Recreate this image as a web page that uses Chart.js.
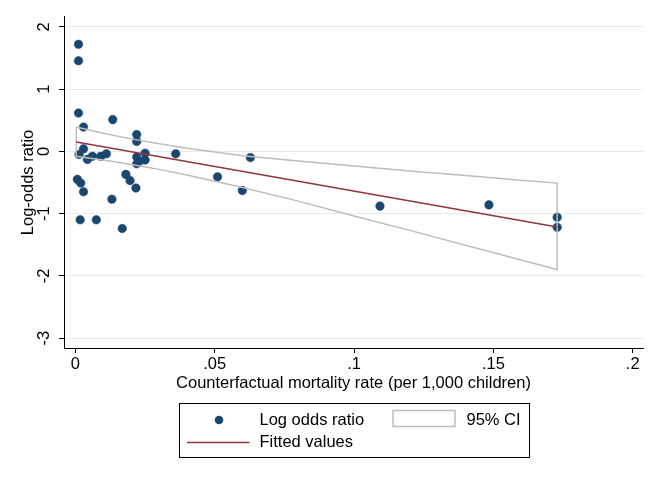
<!DOCTYPE html>
<html><head><meta charset="utf-8">
<script src="https://cdn.jsdelivr.net/npm/chart.js@4.4.1/dist/chart.umd.min.js"></script>
<style>html,body{margin:0;padding:0;background:#fff;}#wrap{width:659px;height:479px;}</style>
</head><body><div id="wrap"><canvas id="c" width="659" height="479"></canvas></div>
<script>
// ---- data ----
const pointX = [0.0011, 0.0011, 0.0011, 0.0134, 0.0029, 0.0220, 0.0220, 0.0029, 0.0013, 0.0043,
                0.0061, 0.0091, 0.0111, 0.0220, 0.0229, 0.0250, 0.0250, 0.0220, 0.0360, 0.0007,
                0.0019, 0.0029, 0.0181, 0.0196, 0.0217, 0.0131, 0.0017, 0.0075, 0.0168, 0.0510,
                0.0599, 0.0628, 0.1093, 0.1484, 0.1729, 0.1729];
const pointY = [1.72, 1.455, 0.615, 0.51, 0.39, 0.27, 0.16, 0.04, -0.05, -0.13,
                -0.08, -0.08, -0.04, -0.09, -0.16, -0.03, -0.14, -0.20, -0.04, -0.45,
                -0.51, -0.65, -0.37, -0.47, -0.59, -0.77, -1.10, -1.10, -1.24, -0.41,
                -0.63, -0.10, -0.88, -0.86, -1.06, -1.22];
const fitX = [0.0003, 0.1729];
const fitY = [0.15, -1.215];
const ciX = [0.0003, 0.01, 0.02, 0.03, 0.04, 0.06, 0.08, 0.10, 0.12, 0.14, 0.16, 0.1729];
const ciUpper = [0.39, 0.29, 0.20, 0.12, 0.05, -0.07, -0.155, -0.235, -0.315, -0.39, -0.463, -0.51];
const ciLower = [-0.08, -0.14, -0.21, -0.29, -0.38, -0.58, -0.80, -1.04, -1.27, -1.51, -1.745, -1.90];
const xTickValues = [0, 0.05, 0.1, 0.15, 0.2];
const xTickLabels = ['0', '.05', '.1', '.15', '.2'];
const yTickValues = [-3, -2, -1, 0, 1, 2];
const yTickLabels = ['-3', '-2', '-1', '0', '1', '2'];
const seriesLabels = ['Log odds ratio', '95% CI', 'Fitted values'];
const xTitle = 'Counterfactual mortality rate (per 1,000 children)';
const yTitle = 'Log-odds ratio';

// ---- build library structures ----
const scatterData = pointX.map((x, i) => ({x, y: pointY[i]}));
const fitData = fitX.map((x, i) => ({x, y: fitY[i]}));
const ciData = ciX.map((x, i) => ({x, y: ciUpper[i]}))
  .concat(ciX.map((x, i) => ({x, y: ciLower[i]})).reverse());
ciData.push({x: ciX[0], y: ciUpper[0]});

const FONT = "'Liberation Sans', Arial, Helvetica, sans-serif";
const FS = 16.5;
Chart.defaults.font.family = FONT;
Chart.defaults.font.size = FS;
Chart.defaults.color = '#000';

const NAVY = '#1a476f', MAROON = '#90353b', CIGRAY = '#bdbdbd';

const stataLegend = {
  id: 'stataLegend',
  afterDraw(chart) {
    const ctx = chart.ctx, a = chart.chartArea;
    const ds = chart.data.datasets;
    const cx = (a.left + a.right) / 2;
    const bw = 350, bh = 54;
    const bx = Math.round(cx - bw / 2) + 0.5;
    const by = Math.round(a.bottom + 55) + 0.5;
    ctx.save();
    ctx.fillStyle = '#fff';
    ctx.fillRect(bx, by, bw, bh);
    ctx.strokeStyle = '#000'; ctx.lineWidth = 1;
    ctx.strokeRect(bx, by, bw, bh);
    const r1 = by + 16.5, r2 = by + 39;
    // scatter key
    ctx.fillStyle = ds[0].backgroundColor;
    ctx.beginPath(); ctx.arc(bx + 39.5, r1, 4.3, 0, Math.PI * 2); ctx.fill();
    // CI key
    ctx.strokeStyle = ds[1].borderColor; ctx.lineWidth = 1.5;
    ctx.strokeRect(bx + 213.5, by + 7, 62, 16);
    // fitted key
    ctx.strokeStyle = ds[2].borderColor; ctx.lineWidth = 1.5;
    ctx.beginPath(); ctx.moveTo(bx + 7.5, r2); ctx.lineTo(bx + 70, r2); ctx.stroke();
    // texts
    ctx.fillStyle = '#000';
    ctx.font = FS + 'px ' + FONT;
    ctx.textAlign = 'left'; ctx.textBaseline = 'middle';
    ctx.fillText(ds[0].label, bx + 80, r1);
    ctx.fillText(ds[1].label, bx + 287, r1);
    ctx.fillText(ds[2].label, bx + 80, r2);
    ctx.restore();
  }
};

new Chart(document.getElementById('c'), {
  type: 'scatter',
  data: {
    datasets: [
      {label: seriesLabels[0], data: scatterData, backgroundColor: NAVY, borderColor: NAVY,
       pointRadius: 4.3, pointBorderWidth: 0.5, showLine: false, order: 3},
      {label: seriesLabels[1], data: ciData, borderColor: CIGRAY, backgroundColor: CIGRAY,
       borderWidth: 1.5, pointRadius: 0, showLine: true, fill: false, tension: 0, order: 2},
      {label: seriesLabels[2], data: fitData, borderColor: MAROON, backgroundColor: MAROON,
       borderWidth: 1.5, pointRadius: 0, showLine: true, fill: false, tension: 0, order: 1}
    ]
  },
  options: {
    responsive: false,
    animation: false,
    layout: {padding: {top: 16, right: 16, left: 0, bottom: 81}},
    plugins: {legend: {display: false}, tooltip: {enabled: false}},
    scales: {
      x: {
        type: 'linear', position: 'bottom', min: -0.0041, max: 0.2037,
        afterBuildTicks: s => { s.ticks = xTickValues.map(v => ({value: v})); },
        afterFit: s => { s.height = 50; },
        ticks: {autoSkip: false, maxRotation: 0, padding: 2,
                callback: v => xTickLabels[xTickValues.indexOf(v)]},
        grid: {drawOnChartArea: false, tickLength: 5, tickColor: '#000'},
        border: {color: '#000', width: 1},
        title: {display: true, text: xTitle, padding: {top: 0, bottom: 5}}
      },
      y: {
        type: 'linear', position: 'left', min: -3.16, max: 2.16,
        afterBuildTicks: s => { s.ticks = yTickValues.map(v => ({value: v})); },
        afterFit: s => { s.width = 64; },
        ticks: {autoSkip: false, minRotation: 90, maxRotation: 90, crossAlign: 'center', padding: 7,
                callback: v => yTickLabels[yTickValues.indexOf(v)]},
        grid: {color: '#e3edf1', lineWidth: 1, tickLength: 5, tickColor: '#000'},
        border: {color: '#000', width: 1},
        title: {display: true, text: yTitle, padding: {top: 19, bottom: 0}}
      }
    }
  },
  plugins: [stataLegend]
});
</script>
</body></html>
